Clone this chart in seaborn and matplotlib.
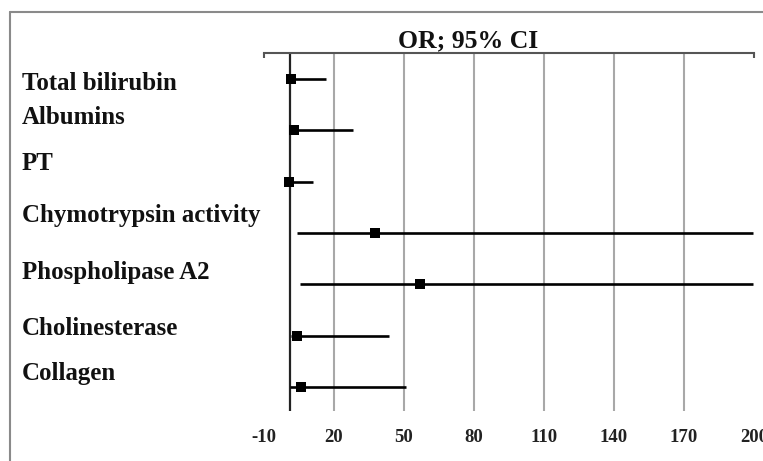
import matplotlib
matplotlib.use("Agg")
import matplotlib.pyplot as plt
from matplotlib.lines import Line2D
import seaborn as sns
import pandas as pd

# ---- data ----
variables = ["Total bilirubin", "Albumins", "PT", "Chymotrypsin activity",
             "Phospholipase A2", "Cholinesterase", "Collagen"]
odds_ratio = [1.4, 2.9, 0.6, 37.6, 56.9, 4.0, 5.7]
ci_lower = [0.9, 0.7, 0.5, 4.1, 5.4, 1.6, 1.1]
ci_upper = [16.6, 28.1, 11.0, 199.6, 199.6, 43.6, 50.9]
x_ticks = [-10, 20, 50, 80, 110, 140, 170, 200]
x_tick_labels = ["-10", "20", "50", "80", "110", "140", "170", "200"]
grid_values = [20, 50, 80, 110, 140, 170]
reference_or = 1
title_text = "OR; 95% CI"

df = pd.DataFrame({"Variable": variables, "OR": odds_ratio,
                   "lo": ci_lower, "hi": ci_upper})

# ---- style ----
sns.set_theme(style="white")
plt.rcParams["font.family"] = ["Liberation Serif", "DejaVu Serif"]
plt.rcParams["font.weight"] = "bold"
plt.rcParams["axes.unicode_minus"] = False

W, H = 763, 461
fig = plt.figure(figsize=(W / 100, H / 100), dpi=100)
ax = fig.add_axes([264 / W, 1 - 411 / H, 490 / W, 358 / H])

# grid lines and reference line
for g in grid_values:
    ax.axvline(g, color="#a8a8a8", lw=1.5, zorder=1)
ax.axvline(reference_or, color="#222222", lw=1.6, zorder=2)

# confidence intervals
ax.hlines(y=range(len(df)), xmin=df["lo"], xmax=df["hi"], color="black",
          lw=1.9, zorder=3)

# point estimates
sns.scatterplot(data=df, x="OR", y="Variable", marker="s", s=55,
                color="black", edgecolor="black", linewidth=0, ax=ax,
                zorder=4)

ax.set_xlim(-10, 200)
ax.set_ylim(6.4675, -0.5065)
ax.set_xlabel("")
ax.set_ylabel("")
ax.set_yticks([])
ax.set_xticks(x_ticks)
ax.set_xticklabels(x_tick_labels, fontsize=13.5, fontweight="bold",
                   color="#222222")
ax.tick_params(axis="x", length=0, pad=13)

for side in ["left", "right", "bottom"]:
    ax.spines[side].set_visible(False)
ax.spines["top"].set_visible(True)
ax.spines["top"].set_color("#555555")
ax.spines["top"].set_linewidth(1.5)
# small end ticks on the top frame
ax.vlines([-10, 200], -0.5065, -0.41, color="#555555", lw=1.5, clip_on=False)

# row labels (left, independent positions)
label_baselines = [90, 124, 170, 222, 279, 335, 380]
for name, yb in zip(variables, label_baselines):
    fig.text(22 / W, 1 - yb / H, name, fontsize=17.9, fontweight="bold",
             ha="left", va="baseline", color="#111111")

# title
fig.text(468 / W, 1 - 47 / H, title_text, fontsize=18.5, fontweight="bold",
         ha="center", va="baseline", color="#111111")

# outer border (partial frame)
fig.add_artist(Line2D([10 / W, 10 / W], [0, 1 - 12 / H],
                      transform=fig.transFigure, color="#8a8a8a", lw=1.5))
fig.add_artist(Line2D([10 / W, 1], [1 - 12 / H, 1 - 12 / H],
                      transform=fig.transFigure, color="#8a8a8a", lw=1.5))

fig.savefig("out.png", dpi=100)
